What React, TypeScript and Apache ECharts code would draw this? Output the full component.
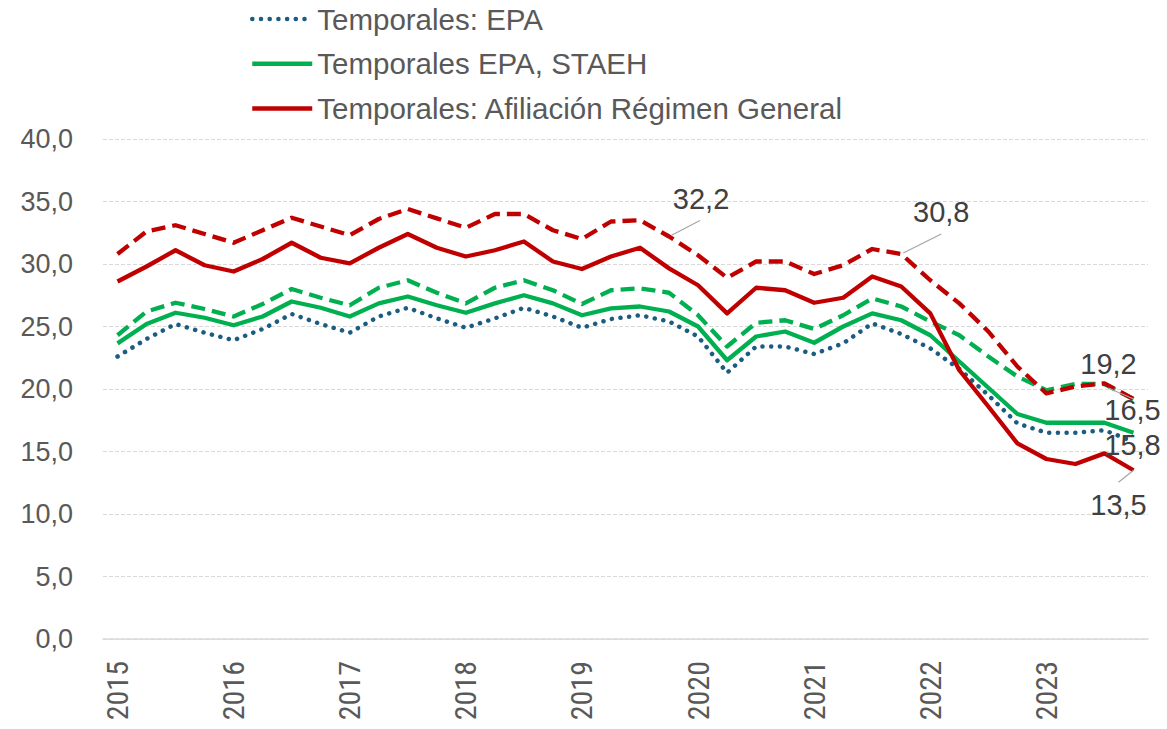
import React, { useEffect, useRef } from "react";
import * as echarts from "echarts";

// ---- Data (quarterly, 2015 T1 – 2023 T4) ----
const years = ["2015", "2016", "2017", "2018", "2019", "2020", "2021", "2022", "2023"];
const quarters = ["T1", "T2", "T3", "T4"];

const temporalesEPA = [
  22.6, 24.0, 25.2, 24.5, 23.9, 24.8, 26.0, 25.2, 24.5,
  25.8, 26.5, 25.65, 24.9, 25.65, 26.5, 25.8, 24.9, 25.6,
  25.9, 25.4, 24.2, 21.3, 23.4, 23.4, 22.8, 23.65, 25.25,
  24.4, 23.25, 21.6, 19.5, 17.25, 16.5, 16.5, 16.7, 15.8,
];
const temporalesEPASTAEH = [
  23.65, 25.2, 26.1, 25.7, 25.1, 25.8, 27.0, 26.5, 25.8,
  26.85, 27.4, 26.7, 26.1, 26.85, 27.5, 26.85, 25.9, 26.45,
  26.6, 26.2, 25.0, 22.3, 24.2, 24.6, 23.7, 25.0, 26.05,
  25.5, 24.3, 22.2, 20.1, 18.0, 17.3, 17.3, 17.3, 16.5,
];
const temporalesEPASTAEHAmpliado = [
  24.3, 26.2, 26.9, 26.4, 25.8, 26.8, 28.0, 27.3, 26.7,
  28.1, 28.7, 27.7, 26.85, 28.1, 28.7, 27.9, 26.8, 27.9,
  28.05, 27.7, 25.9, 23.4, 25.3, 25.5, 24.8, 25.9, 27.25,
  26.6, 25.4, 24.3, 22.6, 21.0, 19.9, 20.4, 20.4, 19.2,
];
const temporalesAfiliacion = [
  28.6, 29.8, 31.1, 29.9, 29.4, 30.4, 31.7, 30.5, 30.05,
  31.3, 32.4, 31.3, 30.6, 31.1, 31.8, 30.2, 29.6, 30.6,
  31.3, 29.65, 28.3, 26.05, 28.1, 27.9, 26.9, 27.3, 29.0,
  28.2, 26.05, 21.5, 18.6, 15.65, 14.4, 14.0, 14.85, 13.5,
];
const temporalesAfiliacionAmpliado = [
  30.8, 32.6, 33.1, 32.4, 31.7, 32.7, 33.7, 33.0, 32.3,
  33.6, 34.4, 33.65, 32.9, 34.0, 34.0, 32.7, 32.0, 33.4,
  33.5, 32.2, 30.7, 28.9, 30.2, 30.2, 29.2, 29.9, 31.2,
  30.8, 28.7, 26.85, 24.6, 21.8, 19.65, 20.2, 20.45, 19.2,
];

const seriesNames = [
  "Temporales: EPA",
  "Temporales EPA, STAEH",
  "Temporales EPA, STAEH (ampliado)",
  "Temporales: Afiliación Régimen General",
  "Temporales: Afiliación Régimen General (ampliado)",
];
const legendNames = [seriesNames[0], seriesNames[1], seriesNames[3]];

// which points carry a value label (series index, data index)
const labelledPoints = [
  { s: 4, i: 19 },
  { s: 4, i: 27 },
  { s: 4, i: 35 },
  { s: 1, i: 35 },
  { s: 0, i: 35 },
  { s: 3, i: 35 },
];

// ---- Styling (kept apart from data) ----
const labelOffsets = [
  { dx: 32, dy: -38, line: [31, -16, 2, -1] },
  { dx: 40, dy: -42, line: [40, -20, 2, -1] },
  { dx: -25, dy: -35, line: [-25, -11, 0, 0] },
  { dx: -1, dy: -23, line: null },
  { dx: -1, dy: 3, line: null },
  { dx: -15, dy: 35, line: [-15, 12, 0, 0] },
];

const NARROW = "'Liberation Sans Narrow', 'Arial Narrow', 'Roboto Condensed', 'Liberation Sans', sans-serif";
const REGULAR = "'Liberation Sans', Arial, sans-serif";

const fmt = (v: number) => v.toFixed(1).replace(".", ",");

export default function App() {
  const ref = useRef<HTMLDivElement>(null);

  useEffect(() => {
    if (!ref.current) return;
    const chart = echarts.init(ref.current, undefined, { renderer: "svg" });
    const categories = years.flatMap((y) => quarters.map((q) => `${y} ${q}`));
    const allData = [
      temporalesEPA,
      temporalesEPASTAEH,
      temporalesEPASTAEHAmpliado,
      temporalesAfiliacion,
      temporalesAfiliacionAmpliado,
    ];
    const colors = ["#1B5C82", "#00B050", "#00B050", "#C00000", "#C00000"];
    const lineTypes: any[] = [[0.1, 8.6], "solid", [14, 7], "solid", [14, 7]];

    chart.setOption({
      animation: false,
      backgroundColor: "#ffffff",
      grid: { left: 103, right: 19, top: 139, bottom: 90, containLabel: false },
      legend: {
        data: legendNames,
        orient: "vertical",
        left: 250,
        top: 4,
        padding: 0,
        itemWidth: 60,
        itemHeight: 30,
        itemGap: 14.7,
        itemStyle: { opacity: 0 },
        lineStyle: { width: 4.5 },
        textStyle: { fontSize: 29.5, fontFamily: REGULAR, color: "#595959" },
      },
      xAxis: {
        type: "category",
        data: categories,
        boundaryGap: true,
        axisTick: { show: false },
        axisLine: { lineStyle: { color: "#D9D9D9", width: 1.5 } },
        axisLabel: {
          interval: 3,
          rotate: 90,
          margin: 22,
          formatter: (v: string) => v.slice(0, 4),
          fontSize: 30,
          fontFamily: NARROW,
          color: "#595959",
        },
        splitLine: { show: false },
      },
      yAxis: {
        type: "value",
        min: 0,
        max: 40,
        interval: 5,
        axisLine: { show: false },
        axisTick: { show: false },
        axisLabel: {
          formatter: (v: number) => fmt(v),
          fontSize: 27,
          fontFamily: REGULAR,
          color: "#595959",
          margin: 30,
        },
        splitLine: { lineStyle: { color: "#D9D9D9", width: 1, type: [4, 2] } },
      },
      series: allData.map((d, k) => ({
        name: seriesNames[k],
        type: "line",
        data: d,
        symbol: "none",
        color: colors[k],
        z: k + 2,
        lineStyle: {
          color: colors[k],
          width: k === 0 ? 4.5 : 4.3,
          type: lineTypes[k],
          cap: k === 0 ? "round" : "butt",
          join: "round",
        },
      })),
    });

    const elements: any[] = [];
    labelledPoints.forEach((p, n) => {
      const v = allData[p.s][p.i];
      const pt = chart.convertToPixel({ gridIndex: 0 }, [p.i, v]) as number[];
      const o = labelOffsets[n];
      if (o.line) {
        elements.push({
          type: "line",
          z: 50,
          shape: {
            x1: pt[0] + o.line[0],
            y1: pt[1] + o.line[1],
            x2: pt[0] + o.line[2],
            y2: pt[1] + o.line[3],
          },
          style: { stroke: "#A6A6A6", lineWidth: 1.2 },
        });
      }
      elements.push({
        type: "text",
        z: 51,
        x: pt[0] + o.dx,
        y: pt[1] + o.dy,
        style: {
          text: fmt(v),
          fontSize: 29,
          fontFamily: REGULAR,
          fill: "#404040",
          align: "center",
          verticalAlign: "middle",
        },
      });
    });
    chart.setOption({ graphic: { elements } });

    return () => chart.dispose();
  }, []);

  return (
    <div
      ref={ref}
      style={{ position: "fixed", left: 0, top: 0, width: 1167, height: 729, background: "#fff" }}
    />
  );
}
